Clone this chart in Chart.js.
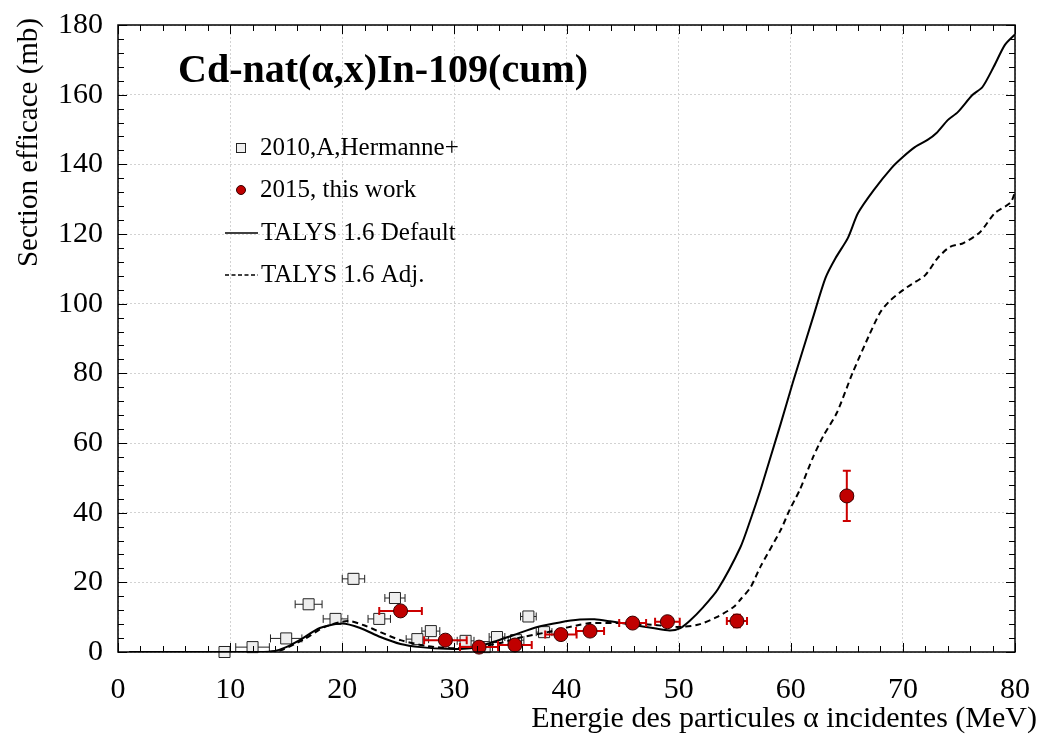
<!DOCTYPE html>
<html>
<head>
<meta charset="utf-8">
<script src="https://cdn.jsdelivr.net/npm/chart.js@4/dist/chart.umd.min.js"></script>
<style>
html,body{margin:0;padding:0;background:#fff;}
#wrap{width:1042px;height:737px;}
</style>
</head>
<body>
<div id="wrap"><canvas id="c" width="1042" height="737"></canvas></div>
<script>
// ---- Data ----
const chartTitle = "Cd-nat(α,x)In-109(cum)";
const xAxisTitle = "Energie des particules α incidentes (MeV)";
const yAxisTitle = "Section efficace (mb)";
const seriesNames = ["2010,A,Hermanne+", "2015, this work", "TALYS 1.6 Default", "TALYS 1.6 Adj."];

// Hermanne 2010 experimental data
const hermE    = [9.5, 12.0, 15.0, 17.0, 19.4, 21.0, 23.3, 24.7, 26.7, 27.9, 31.0, 32.7, 33.8, 35.5, 36.6, 38.0];
const hermSig  = [0.0, 1.4, 3.9, 13.7, 9.5, 21.0, 9.5, 15.5, 3.7, 6.0, 3.2, 1.4, 4.3, 3.4, 10.2, 5.7];
const hermEErr = [0.0, 1.5, 1.4, 1.2, 1.1, 1.0, 1.0, 0.9, 1.0, 0.8, 0.75, 0.7, 0.7, 0.7, 0.7, 0.7];
const hermSErr = [0.3, 0.3, 0.4, 0.8, 0.8, 1.5, 0.8, 0.8, 0.5, 0.6, 0.4, 0.3, 0.4, 0.4, 0.6, 0.4];

// This work 2015
const workE    = [25.2, 29.2, 32.2, 35.4, 39.5, 42.1, 45.9, 49.0, 55.2, 65.0];
const workSig  = [11.8, 3.4, 1.4, 2.0, 5.0, 6.0, 8.3, 8.7, 8.9, 44.8];
const workEErr = [1.9, 1.9, 1.7, 1.5, 1.4, 1.25, 1.2, 1.1, 0.9, 0.5];
const workSErr = [1.0, 0.8, 0.6, 0.6, 0.6, 0.7, 0.8, 1.0, 1.8, 7.2];

// TALYS 1.6 Default
const talysDefE = [1, 13, 14, 15, 16.2, 18, 20, 21.6, 23.4, 25.2, 27, 29.3, 31.4, 33.2, 35.3, 37.4, 39.4, 41.2, 42.5, 43.9, 45.9, 47.7, 49.2, 50.1, 51, 52.2, 53.5, 55.5, 56.4, 57.3, 58.2, 59.1, 60.2, 62, 63.1, 64, 65.1, 66, 67.4, 69, 70, 71.1, 72.2, 73, 74, 74.9, 76.2, 77.1, 78.1, 79.1, 80];
const talysDefS = [0, 0, 0.3, 1.4, 3.4, 6.9, 8.2, 6.9, 4.3, 2.3, 1.4, 0.9, 1.1, 2.6, 4.9, 7.2, 8.5, 9.3, 9.4, 8.8, 7.8, 6.9, 6.2, 6.8, 9.0, 12.9, 18.0, 30.0, 37.9, 46.5, 56.0, 65.5, 77.5, 96.2, 107.4, 113.1, 118.9, 126.0, 132.6, 139.0, 142.1, 145.0, 147.0, 149.0, 152.7, 155.0, 159.9, 162.2, 168.0, 174.3, 177.3];

// TALYS 1.6 Adjusted
const talysAdjE = [1, 13, 14.5, 16.5, 18.5, 20.5, 22, 23.4, 25.2, 27.6, 29.9, 32, 34.1, 36.1, 38.3, 40, 41.2, 42.1, 44.8, 47.7, 49.9, 51.7, 53.4, 54.9, 55.5, 56.4, 57.3, 59.1, 59.9, 60.8, 62, 62.9, 64.1, 65.5, 67, 68, 68.9, 70.4, 72, 73.1, 74.2, 75.4, 76.9, 78.2, 79.6, 80];
const talysAdjS = [0, 0, 0.5, 3.5, 7.3, 8.9, 7.6, 5.7, 3.4, 1.7, 1.1, 1.4, 2.6, 4.3, 5.7, 7.0, 7.8, 8.3, 8.3, 7.8, 7.2, 7.8, 10.0, 12.9, 15.0, 18.5, 24.5, 35.0, 40.8, 46.5, 56.0, 62.0, 68.6, 80.0, 91.0, 97.6, 101.0, 104.8, 108.2, 113.1, 116.3, 117.4, 120.6, 126.0, 129.0, 132.0];

// Axis ranges / ticks
const xMin = 0, xMax = 80, xMajor = 10, xMinor = 2;
const yMin = 0, yMax = 180, yMajor = 20, yMinor = 4;

const pts = (xs, ys) => xs.map((x, i) => ({x: x, y: ys[i]}));
const SERIF = "'Liberation Serif', 'Times New Roman', serif";

// ---- plugin: error bars, frame, minor ticks, titles, legend ----
const errorBars = {
  hermanne: {xs: hermE, ys: hermSig, ex: hermEErr, ey: hermSErr, color: '#222', width: 1, cap: 4},
  work: {xs: workE, ys: workSig, ex: workEErr, ey: workSErr, color: '#cc0000', width: 2, cap: 4}
};

function drawErr(chart, spec) {
  const ctx = chart.ctx, xs = chart.scales.x, ys = chart.scales.y;
  ctx.save();
  ctx.strokeStyle = spec.color;
  ctx.lineWidth = spec.width;
  for (let i = 0; i < spec.xs.length; i++) {
    const px = xs.getPixelForValue(spec.xs[i]);
    const py = ys.getPixelForValue(spec.ys[i]);
    const c = spec.cap;
    ctx.beginPath();
    if (spec.ex[i] > 0) {
      const x1 = xs.getPixelForValue(spec.xs[i] - spec.ex[i]);
      const x2 = xs.getPixelForValue(spec.xs[i] + spec.ex[i]);
      ctx.moveTo(x1, py); ctx.lineTo(x2, py);
      ctx.moveTo(x1, py - c); ctx.lineTo(x1, py + c);
      ctx.moveTo(x2, py - c); ctx.lineTo(x2, py + c);
    }
    if (spec.ey[i] > 0) {
      const y1 = ys.getPixelForValue(spec.ys[i] - spec.ey[i]);
      const y2 = ys.getPixelForValue(spec.ys[i] + spec.ey[i]);
      ctx.moveTo(px, y1); ctx.lineTo(px, y2);
      ctx.moveTo(px - c, y1); ctx.lineTo(px + c, y1);
      ctx.moveTo(px - c, y2); ctx.lineTo(px + c, y2);
    }
    ctx.stroke();
  }
  ctx.restore();
}

const decor = {
  id: 'decor',
  beforeDatasetDraw(chart, args) {
    const ds = chart.data.datasets[args.index];
    if (ds.errKey) drawErr(chart, errorBars[ds.errKey]);
  },
  afterDraw(chart) {
    const ctx = chart.ctx, a = chart.chartArea, xs = chart.scales.x, ys = chart.scales.y;
    ctx.save();
    // frame
    ctx.strokeStyle = '#000';
    ctx.lineWidth = 1.5;
    ctx.strokeRect(a.left, a.top, a.right - a.left, a.bottom - a.top);
    // inward ticks
    ctx.lineWidth = 1;
    ctx.beginPath();
    for (let v = xMin; v <= xMax + 1e-9; v += xMinor) {
      const p = Math.round(xs.getPixelForValue(v)) + 0.5;
      const L = (Math.abs(v % xMajor) < 1e-9) ? 9 : 6;
      ctx.moveTo(p, a.bottom); ctx.lineTo(p, a.bottom - L);
      ctx.moveTo(p, a.top); ctx.lineTo(p, a.top + L);
    }
    for (let v = yMin; v <= yMax + 1e-9; v += yMinor) {
      const p = Math.round(ys.getPixelForValue(v)) + 0.5;
      const L = (Math.abs(v % yMajor) < 1e-9) ? 9 : 6;
      ctx.moveTo(a.left, p); ctx.lineTo(a.left + L, p);
      ctx.moveTo(a.right, p); ctx.lineTo(a.right - L, p);
    }
    ctx.stroke();

    // chart title
    ctx.fillStyle = '#000';
    ctx.font = "bold 40px " + SERIF;
    ctx.textAlign = 'left';
    ctx.textBaseline = 'middle';
    ctx.fillText(chartTitle, 178, 72);

    // axis titles
    ctx.font = "30px " + SERIF;
    ctx.textAlign = 'right';
    ctx.textBaseline = 'middle';
    ctx.fillText(xAxisTitle, 1037, 719);
    ctx.font = "29px " + SERIF;
    ctx.save();
    ctx.translate(29, 18);
    ctx.rotate(-Math.PI / 2);
    ctx.textAlign = 'right';
    ctx.fillText(yAxisTitle, 0, 0);
    ctx.restore();

    // legend
    ctx.font = "25px " + SERIF;
    ctx.textAlign = 'left';
    ctx.textBaseline = 'middle';
    const rows = [148, 190, 233, 275];
    // square
    ctx.fillStyle = '#efefef'; ctx.strokeStyle = '#222'; ctx.lineWidth = 1;
    ctx.fillRect(236.5, 143.5, 9, 9); ctx.strokeRect(236.5, 143.5, 9, 9);
    // circle
    ctx.beginPath(); ctx.arc(241, rows[1], 4.5, 0, Math.PI * 2);
    ctx.fillStyle = '#c00000'; ctx.fill(); ctx.strokeStyle = '#300'; ctx.stroke();
    // solid line
    ctx.strokeStyle = '#000'; ctx.lineWidth = 1.5;
    ctx.beginPath(); ctx.moveTo(225, rows[2]); ctx.lineTo(258, rows[2]); ctx.stroke();
    ctx.setLineDash([4, 2.5]);
    ctx.beginPath(); ctx.moveTo(225, rows[3]); ctx.lineTo(258, rows[3]); ctx.stroke();
    ctx.setLineDash([]);
    ctx.fillStyle = '#000';
    ctx.fillText(seriesNames[0], 260, rows[0]);
    ctx.fillText(seriesNames[1], 260, rows[1]);
    ctx.fillText(seriesNames[2], 261, rows[2]);
    ctx.fillText(seriesNames[3], 261, rows[3]);
    ctx.restore();
  }
};

new Chart(document.getElementById('c'), {
  type: 'scatter',
  data: {
    datasets: [
      {
        label: seriesNames[1], errKey: 'work', order: 0,
        data: pts(workE, workSig),
        pointStyle: 'circle', pointRadius: 7, pointHoverRadius: 7,
        backgroundColor: '#c00000', borderColor: '#3a0000', borderWidth: 1,
        showLine: false, clip: false
      },
      {
        label: seriesNames[2], order: 1, type: 'line',
        data: pts(talysDefE, talysDefS),
        borderColor: '#000', borderWidth: 2, pointRadius: 0, fill: false,
        tension: 0.25, showLine: true
      },
      {
        label: seriesNames[3], order: 2, type: 'line',
        data: pts(talysAdjE, talysAdjS),
        borderColor: '#000', borderWidth: 2, borderDash: [6, 4], pointRadius: 0, fill: false,
        tension: 0.25, showLine: true
      },
      {
        label: seriesNames[0], errKey: 'hermanne', order: 3,
        data: pts(hermE, hermSig),
        pointStyle: 'rect', pointRadius: 7.8, pointHoverRadius: 7.8,
        backgroundColor: '#eeeeee', borderColor: '#222', borderWidth: 1,
        showLine: false, clip: false
      }
    ]
  },
  options: {
    responsive: false,
    devicePixelRatio: 1,
    animation: false,
    layout: {padding: {left: 0, right: 27, top: 25, bottom: 0}},
    plugins: {legend: {display: false}, tooltip: {enabled: false}, title: {display: false}},
    scales: {
      x: {
        type: 'linear', min: xMin, max: xMax,
        afterFit: (s) => { s.height = 85; },
        ticks: {stepSize: xMajor, padding: 2, color: '#000', font: {family: SERIF, size: 30}},
        grid: {drawTicks: true, tickLength: 18, tickColor: 'rgba(0,0,0,0)', color: '#d2d2d2', lineWidth: 1},
        border: {display: false, dash: [2, 2]}
      },
      y: {
        type: 'linear', min: yMin, max: yMax,
        afterFit: (s) => { s.width = 118; },
        ticks: {stepSize: yMajor, padding: 2, color: '#000', font: {family: SERIF, size: 30}},
        grid: {drawTicks: true, tickLength: 13, tickColor: 'rgba(0,0,0,0)', color: '#d2d2d2', lineWidth: 1},
        border: {display: false, dash: [2, 2]}
      }
    }
  },
  plugins: [decor]
});
</script>
</body>
</html>
